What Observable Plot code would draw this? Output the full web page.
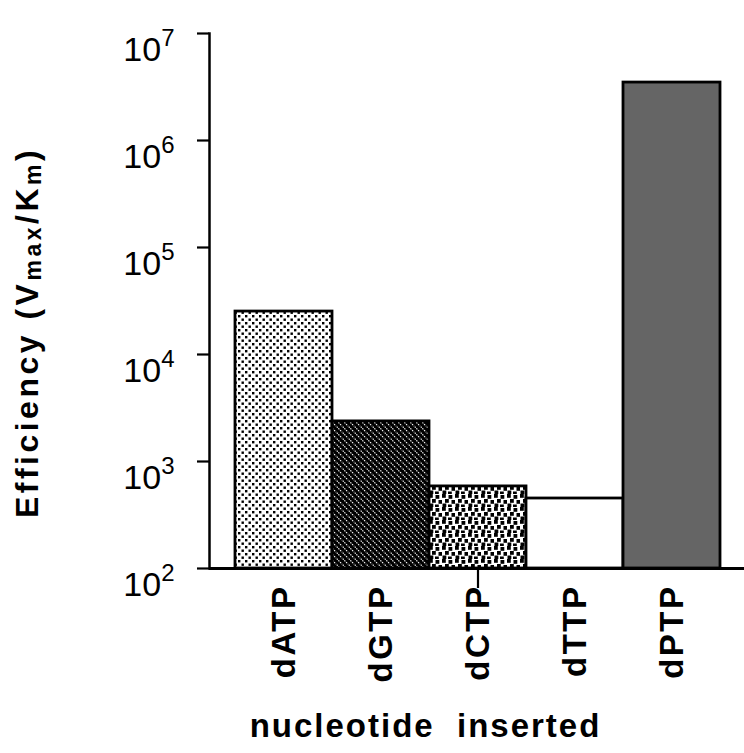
<!DOCTYPE html>
<html><head><meta charset="utf-8">
<script src="https://cdn.jsdelivr.net/npm/d3@7"></script>
<script src="https://cdn.jsdelivr.net/npm/@observablehq/plot@0.6"></script>
<style>
body{margin:0;background:#fff;}
#chart svg{font-family:"Liberation Sans",Arial,Helvetica,sans-serif;}
</style>
</head><body><div id="chart"></div>
<script>
// ---- data ----
const categories = ["dATP", "dGTP", "dCTP", "dTTP", "dPTP"];
const efficiency = [25200, 2370, 585, 451, 3480000];
const yTicks = [1e2, 1e3, 1e4, 1e5, 1e6, 1e7];
const markedTick = ["dCTP"];
const xTitle = "nucleotide  inserted";
const yTitleParts = [["Efficiency (V", false], ["max", true], ["/K", false], ["m", true], [")", false]];

// ---- styles (kept separate from data) ----
const fills = {dATP: "url(#pat-dots)", dGTP: "url(#pat-diag)", dCTP: "url(#pat-squares)", dTTP: "white", dPTP: "#656565"};

const data = categories.map((c, i) => ({nucleotide: c, efficiency: efficiency[i]}));

const plot = Plot.plot({
  width: 744, height: 753,
  marginLeft: 209, marginRight: 0, marginTop: 33, marginBottom: 185,
  style: {background: "white", color: "black", fontFamily: "'Liberation Sans', Arial, sans-serif"},
  x: {domain: categories, padding: 0, insetLeft: 24, insetRight: 22},
  y: {type: "log", domain: [1e2, 1e7]},
  color: {type: "identity"},
  marks: [
    Plot.barY(data, {x: "nucleotide", y1: 100, y2: "efficiency", fill: d => fills[d.nucleotide], stroke: "black", strokeWidth: 2.8}),
    Plot.frame({anchor: "left", stroke: "black", strokeWidth: 2.5}),
    Plot.ruleY([1e2], {stroke: "black", strokeWidth: 2.8}),
    Plot.axisY({ticks: yTicks, tickSize: 12, tickPadding: 23, strokeWidth: 2.2, fontSize: 34, label: null, tickFormat: d => String(Math.round(Math.log10(d)))}),
    Plot.axisX({tickSize: 0, tickRotate: -90, tickPadding: 16, fontSize: 33, fontWeight: "bold", label: null}),
    Plot.axisX({ticks: markedTick, tickSize: 20, strokeWidth: 2.2, tickFormat: () => "", label: null})
  ]
});

const svg = d3.select(plot);
// patterns
const defs = svg.insert("defs", ":first-child");
const p1 = defs.append("pattern").attr("id", "pat-dots").attr("patternUnits", "userSpaceOnUse").attr("width", 7).attr("height", 7);
p1.append("rect").attr("width", 7).attr("height", 7).attr("fill", "white");
p1.append("rect").attr("x", 0).attr("y", 0).attr("width", 2.4).attr("height", 2.4).attr("fill", "black");
p1.append("rect").attr("x", 3.5).attr("y", 3.5).attr("width", 2.4).attr("height", 2.4).attr("fill", "black");

const p2 = defs.append("pattern").attr("id", "pat-diag").attr("patternUnits", "userSpaceOnUse").attr("width", 6).attr("height", 6);
p2.append("rect").attr("width", 6).attr("height", 6).attr("fill", "black");
p2.append("path").attr("d", "M-1,-1L7,7M-1,5L1,7M5,-1L7,1").attr("stroke", "white").attr("stroke-width", 1.2).attr("stroke-dasharray", "1.4,1");

const p3 = defs.append("pattern").attr("id", "pat-squares").attr("patternUnits", "userSpaceOnUse").attr("width", 13).attr("height", 13);
p3.append("rect").attr("width", 13).attr("height", 13).attr("fill", "white");
[[0,0],[6.5,1],[3,5],[9.5,6],[0.5,9.5],[6,10.5]].forEach(([x, y]) =>
  p3.append("rect").attr("x", x).attr("y", y).attr("width", 3.8).attr("height", 3.8).attr("fill", "black"));

// superscript y tick labels
svg.selectAll('g[aria-label="y-axis tick label"] text').each(function() {
  const t = d3.select(this);
  const e = t.text();
  t.text("").attr("dy", "0.5em");
  t.append("tspan").text("10");
  t.append("tspan").attr("font-size", 24).attr("dy", -15).text(e);
});
// slightly spaced x tick labels
svg.selectAll('g[aria-label="x-axis tick label"] text').attr("letter-spacing", 2.5);

// axis titles
const yScale = plot.scale("y");
const yMid = (yScale.range[0] + yScale.range[1]) / 2;
const yt = svg.append("text")
  .attr("transform", `translate(38,${yMid + 32}) rotate(-90)`)
  .attr("text-anchor", "middle").attr("font-weight", "bold").attr("font-size", 32)
  .attr("letter-spacing", 3.5).attr("fill", "black");
yTitleParts.forEach(([s, sub], i) => {
  const ts = yt.append("tspan").text(s);
  if (sub) ts.attr("font-size", 23).attr("dy", 3);
  else if (i > 0) ts.attr("dy", -3);
});

const xScale = plot.scale("x");
const xMid = (xScale.range[0] + xScale.range[1]) / 2;
svg.append("text").attr("x", xMid - 52).attr("y", 737)
  .attr("text-anchor", "middle").attr("font-weight", "bold").attr("font-size", 33)
  .attr("letter-spacing", 2).attr("fill", "black").text(xTitle);

document.getElementById("chart").appendChild(plot);
</script>
</body></html>
